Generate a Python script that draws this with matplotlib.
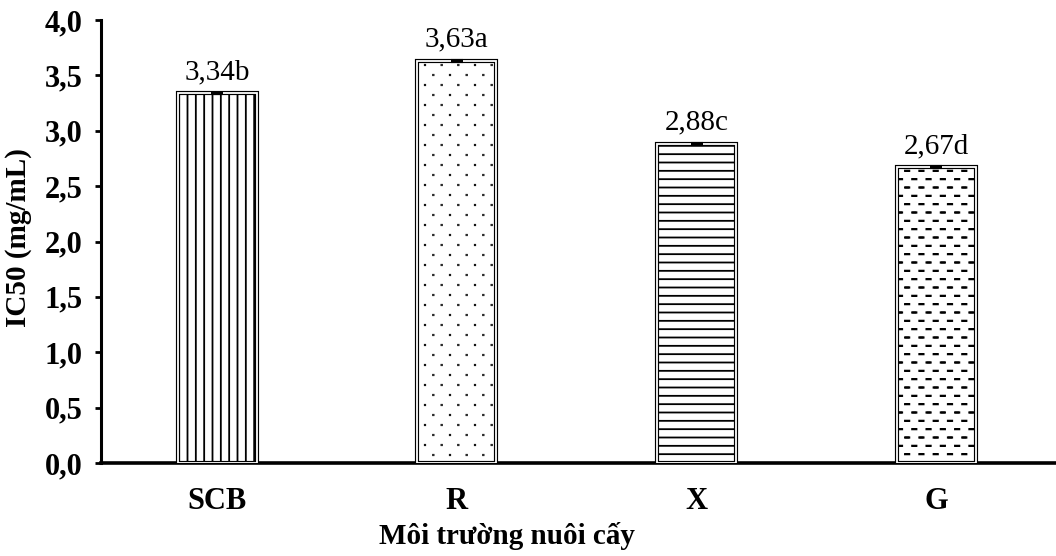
import warnings
import numpy as np
import matplotlib
matplotlib.use('Agg')
import matplotlib.pyplot as plt
import matplotlib.hatch as mhatch
from matplotlib.path import Path

warnings.filterwarnings('ignore')

# Datos del grafico
moi_truong = ['SCB', 'R', 'X', 'G']
ic50 = [3.34, 3.63, 2.88, 2.67]
sai_so = [0.005, 0.012, 0.012, 0.008]
nhan = ['3,34b', '3,63a', '2,88c', '2,67d']
y_ticks = [0.0, 0.5, 1.0, 1.5, 2.0, 2.5, 3.0, 3.5, 4.0]


# Trama propia: puntos ('d') y guiones ('k') escalonados
class MarcasEscalonadas(mhatch.HatchPatternBase):
    # columnas, filas, medio ancho, medio alto (en unidades de la celda)
    tipos = {'d': (6, 10, 0.002, 0.002), 'k': (7, 12, 0.022, 0.002)}

    def __init__(self, hatch, density):
        self.specs = [self.tipos[c] for c in hatch if c in self.tipos]
        self.num_vertices = sum(s[1] * (s[0] + 1) for s in self.specs) * 5

    def set_vertices_and_codes(self, vertices, codes):
        partes = []
        for nx, ny, hw, hh in self.specs:
            for r in range(ny):
                desp = 0.5 / nx if r % 2 else 0.0
                y = (r + 0.5) / ny
                for c in range(nx + 1):
                    x = c / nx + desp
                    partes.append([[x - hw, y - hh], [x + hw, y - hh],
                                   [x + hw, y + hh], [x - hw, y + hh],
                                   [x - hw, y - hh]])
        if partes:
            vertices[:] = np.array(partes).reshape(-1, 2)
            codes[:] = np.tile([Path.MOVETO, Path.LINETO, Path.LINETO,
                                Path.LINETO, Path.CLOSEPOLY], len(partes))


mhatch._hatch_types.append(MarcasEscalonadas)
kieu_gach = ['||', 'd', '--', 'k']

plt.rcParams['font.family'] = ['Liberation Serif', 'DejaVu Serif']
plt.rcParams['hatch.linewidth'] = 1.3

fig = plt.figure(figsize=(10.56, 5.56), dpi=100)
ax = fig.add_axes([101 / 1056, 93 / 556, 955 / 1056, 443 / 556])

x = np.arange(len(moi_truong))
ancho = 0.33

# borde doble: negro grueso y blanco encima
barras = ax.bar(x, ic50, width=ancho, color='white', edgecolor='black', linewidth=3.0, zorder=2)
for b, h in zip(barras, kieu_gach):
    b.set_hatch(h)
ax.bar(x, ic50, width=ancho, fill=False, edgecolor='white', linewidth=1.3, zorder=3)

ax.errorbar(x, ic50, yerr=sai_so, fmt='none', ecolor='black', elinewidth=1.5,
            capsize=4, capthick=1.5, zorder=4)

for xi, v, e, t in zip(x, ic50, sai_so, nhan):
    ax.annotate(t, (xi, v + e), xytext=(0, 5), textcoords='offset points',
                ha='center', va='bottom', fontsize=21)

ax.set_xlim(-0.485, 3.5)
ax.set_ylim(0, 4.0)
ax.set_yticks(y_ticks)
ax.set_yticklabels([f'{v:.1f}'.replace('.', ',') for v in y_ticks],
                   fontsize=22, fontweight='bold')
ax.set_xticks(x)
ax.set_xticklabels(moi_truong, fontsize=22, fontweight='bold')

ax.tick_params(axis='y', direction='out', length=4, width=2, pad=9)
ax.tick_params(axis='x', length=0, pad=17)

for s in ['top', 'right']:
    ax.spines[s].set_visible(False)
ax.spines['left'].set_linewidth(2.2)
ax.spines['bottom'].set_linewidth(2.6)

ax.set_ylabel('IC50 (mg/mL)', fontsize=21, fontweight='bold')
ax.yaxis.set_label_coords(-0.072, 0.508)
ax.set_xlabel('Môi trường nuôi cấy', fontsize=21, fontweight='bold')
ax.xaxis.set_label_coords(0.425, -0.133)

fig.savefig('out.png', dpi=100)
